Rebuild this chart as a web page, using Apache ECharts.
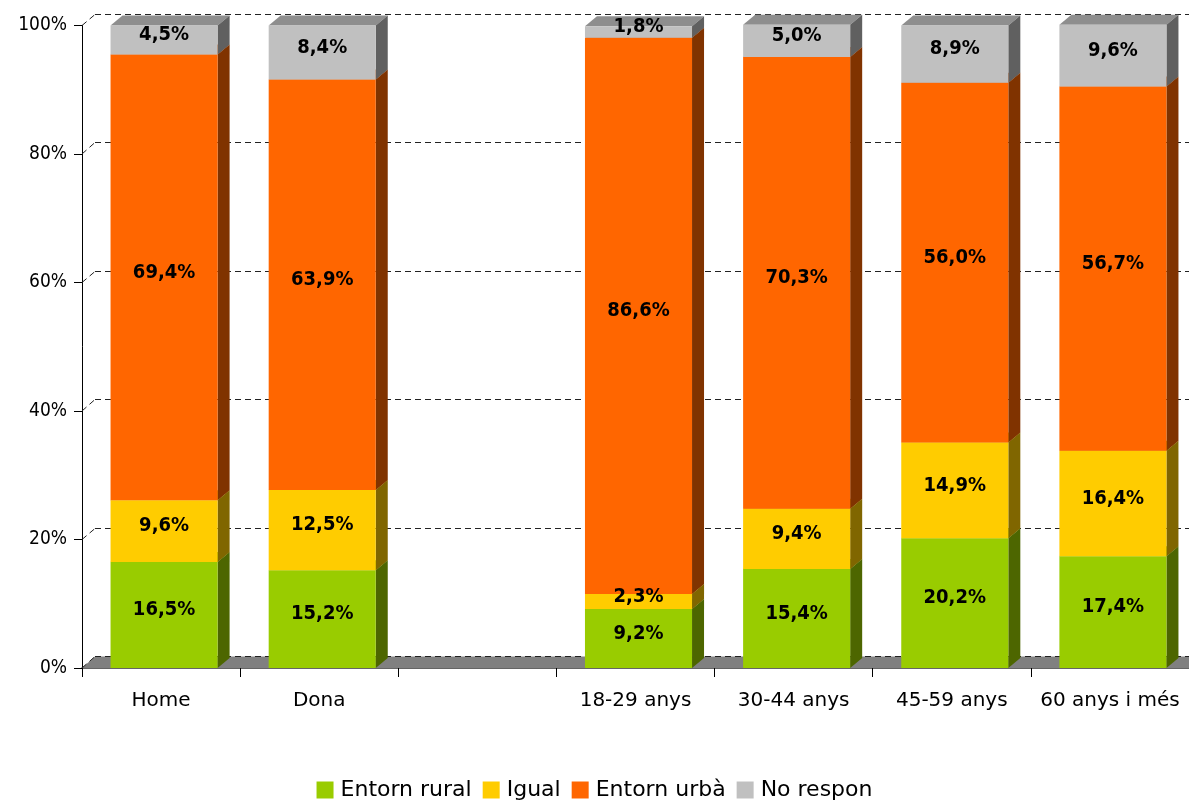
<!DOCTYPE html>
<html>
<head>
<meta charset="utf-8">
<script src="https://cdn.jsdelivr.net/npm/echarts@6/dist/echarts.min.js"></script>
<style>
html,body{margin:0;padding:0;background:#fff;}
#chart{width:1189px;height:800px;}
</style>
</head>
<body>
<div id="chart"></div>
<script>
const categories = ['Home', 'Dona', '', '18-29 anys', '30-44 anys', '45-59 anys', '60 anys i més'];
const entornRural = [16.5, 15.2, null, 9.2, 15.4, 20.2, 17.4];
const igual = [9.6, 12.5, null, 2.3, 9.4, 14.9, 16.4];
const entornUrba = [69.4, 63.9, null, 86.6, 70.3, 56.0, 56.7];
const noRespon = [4.5, 8.4, null, 1.8, 5.0, 8.9, 9.6];
const yTicks = [0, 20, 40, 60, 80, 100];
const seriesNames = ['Entorn rural', 'Igual', 'Entorn urbà', 'No respon'];

const seriesValues = [entornRural, igual, entornUrba, noRespon];
const frontColors = ['#99CC00', '#FFCC00', '#FF6600', '#C0C0C0'];
const sideColors = ['#4D6600', '#806600', '#803300', '#606060'];
const topColors = ['#7AA300', '#CCA300', '#CC5200', '#8E8E8E'];

const WALL_DX = 13, WALL_DY = 12;
const BAR_DX = 12, BAR_DY = 10;

function fmt(v) { return v.toFixed(1).replace('.', ',') + '%'; }

// build stacked data
const base = categories.map(() => 0);
const stackData = seriesValues.map((vals) => {
  const out = [];
  vals.forEach((v, i) => {
    if (v == null) return;
    out.push([i, base[i], base[i] + v, v]);
    base[i] += v;
  });
  return out;
});

const chart = echarts.init(document.getElementById('chart'), null, { renderer: 'canvas' });

const barSeries = seriesValues.map((_, s) => ({
  name: seriesNames[s],
  type: 'custom',
  z: 3,
  itemStyle: { color: frontColors[s] },
  data: stackData[s],
  encode: { x: 0, y: 2 },
  renderItem: function (params, api) {
    const ci = api.value(0), lo = api.value(1), hi = api.value(2), v = api.value(3);
    const pLo = api.coord([ci, lo]);
    const pHi = api.coord([ci, hi]);
    const band = api.size([1, 0])[0];
    const w = band * 0.677;
    const cx = pLo[0] + 3;
    const L = cx - w / 2, R = cx + w / 2;
    const yLo = pLo[1], yHi = pHi[1];
    const zb = s * 10;
    return {
      type: 'group',
      children: [
        { type: 'polygon', z2: zb, shape: { points: [[L, yHi], [R, yHi], [R + BAR_DX, yHi - BAR_DY], [L + BAR_DX, yHi - BAR_DY]] }, style: { fill: topColors[s] } },
        { type: 'polygon', z2: zb + 1, shape: { points: [[R, yLo], [R + BAR_DX, yLo - BAR_DY], [R + BAR_DX, yHi - BAR_DY], [R, yHi]] }, style: { fill: sideColors[s] } },
        { type: 'rect', z2: zb + 2, shape: { x: L, y: yHi, width: w, height: yLo - yHi }, style: { fill: frontColors[s] } },
        { type: 'text', z2: 500, style: { x: cx, y: (yLo + yHi) / 2 - 5, text: fmt(v), align: 'center', verticalAlign: 'middle', fill: '#000', font: 'bold 20px "DejaVu Sans Condensed", "DejaVu Sans", sans-serif' } }
      ]
    };
  }
}));

const frameSeries = {
  type: 'custom',
  z: 1,
  silent: true,
  legendHoverLink: false,
  data: yTicks.map(v => [0, v]),
  encode: { x: 0, y: 1 },
  renderItem: function (params, api) {
    const cs = params.coordSys;
    const x0 = cs.x, x1 = cs.x + cs.width + 40;
    const y = api.coord([0, api.value(1)])[1];
    const yb = Math.round(y - WALL_DY) + 0.5;
    const children = [];
    if (api.value(1) === 0) {
      children.push({ type: 'polygon', z2: 0, shape: { points: [[x0, y], [x0 + WALL_DX, yb], [x1, yb], [x1, y]] }, style: { fill: '#808080' } });
    }
    children.push({ type: 'line', z2: 5, shape: { x1: x0, y1: y, x2: x0 + WALL_DX, y2: yb }, style: { stroke: '#222', lineWidth: 1, lineDash: [6, 4] } });
    children.push({ type: 'line', z2: 5, shape: { x1: x0 + WALL_DX, y1: yb, x2: x1, y2: yb }, style: { stroke: '#222', lineWidth: 1, lineDash: [6, 4] } });
    return { type: 'group', children: children };
  }
};

chart.setOption({
  animation: false,
  backgroundColor: '#fff',
  grid: { left: 82, top: 25.5, width: 1109, bottom: 132, containLabel: false },
  legend: {
    data: seriesNames.map(n => ({ name: n, icon: 'rect' })),
    left: 'center',
    top: 779,
    padding: 0,
    itemWidth: 17,
    itemHeight: 17,
    itemGap: 11,
    textStyle: { fontFamily: '"DejaVu Sans", sans-serif', fontSize: 22, lineHeight: 22, color: '#000', padding: [0, 0, 0, 2] }
  },
  xAxis: {
    type: 'category',
    data: categories,
    boundaryGap: true,
    axisLine: { show: true, lineStyle: { color: '#333', width: 1.5 } },
    axisTick: { show: true, length: 9, lineStyle: { color: '#000' } },
    axisLabel: { margin: 23, fontFamily: '"DejaVu Sans", sans-serif', fontSize: 20, color: '#000', interval: 0 },
    splitLine: { show: false }
  },
  yAxis: {
    type: 'value',
    min: 0,
    max: 100,
    interval: 20,
    axisLine: { show: true, lineStyle: { color: '#000', width: 1 } },
    axisTick: { show: true, length: 8, lineStyle: { color: '#000' } },
    axisLabel: { margin: 15, formatter: '{value}%', fontFamily: '"DejaVu Sans Condensed", "DejaVu Sans", sans-serif', fontSize: 19, color: '#000', padding: [0, 0, 5, 0] },
    splitLine: { show: false }
  },
  series: [frameSeries].concat(barSeries)
});
</script>
</body>
</html>
